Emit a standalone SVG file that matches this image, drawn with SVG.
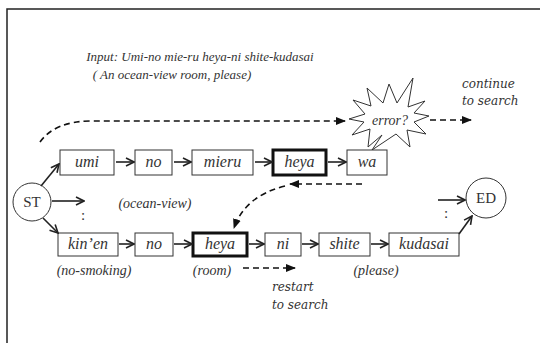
<svg xmlns="http://www.w3.org/2000/svg" width="540" height="343" viewBox="0 0 540 343">
<defs>
<style>
.bx{fill:#fff;stroke:#333;stroke-width:1}
.bb{fill:#fff;stroke:#111;stroke-width:3}
.c{fill:#fff;stroke:#333;stroke-width:1}
.a{fill:none;stroke:#222;stroke-width:1.6;marker-end:url(#v)}
.d{fill:none;stroke:#111;stroke-width:1.6;stroke-dasharray:6 4;marker-end:url(#f)}
</style>
<marker id="v" viewBox="0 0 10 10" refX="9" refY="5" markerWidth="10" markerHeight="10" markerUnits="userSpaceOnUse" orient="auto"><path d="M1,1 L9,5 L1,9" fill="none" stroke="#222" stroke-width="1.6"/></marker>
<marker id="f" viewBox="0 0 10 10" refX="9" refY="5" markerWidth="10" markerHeight="10" markerUnits="userSpaceOnUse" orient="auto"><path d="M0,1 L10,5 L0,9 Z" fill="#111"/></marker>
</defs>
<rect width="540" height="343" fill="#fff"/>
<path d="M7,343 L7,9 L540,9" fill="none" stroke="#222" stroke-width="1.5"/>
<g font-family="Liberation Serif, serif" font-style="italic" fill="#333" text-anchor="middle" font-size="14">
<text x="200" y="61" font-size="13">Input: Umi-no mie-ru heya-ni shite-kudasai</text>
<text x="172" y="79" font-size="13">( An ocean-view room, please)</text>
<text x="155" y="208">(ocean-view)</text>
<text x="94" y="275">(no-smoking)</text>
<text x="212" y="275">(room)</text>
<text x="376" y="275">(please)</text>
</g>
<g font-family="DejaVu Serif, serif" font-style="italic" fill="#333" font-size="12">
<text x="462" y="88">continue</text>
<text x="462" y="105">to search</text>
<text x="272" y="291">restart</text>
<text x="272" y="309">to search</text>
</g>
<g id="error">
<polygon class="c" points="429,116 414,122 426,134 407,130 410,147 396,134 372,150 382,135 368,147 370,129 352,135 364,122 349,119 365,114 353,100 371,106 367,88 383,103 389,84 397,103 413,78 408,107 425,101 414,113"/>
<text x="390" y="125" font-family="Liberation Serif, serif" font-style="italic" font-size="14" fill="#333" text-anchor="middle">error?</text>
</g>
<g id="ST"><circle class="c" cx="32" cy="202" r="19"/><text x="32" y="207" font-family="Liberation Serif, serif" font-size="15" fill="#333" text-anchor="middle">ST</text></g>
<g id="ED"><circle class="c" cx="486" cy="198" r="20"/><text x="486" y="203" font-family="Liberation Serif, serif" font-size="15" fill="#333" text-anchor="middle">ED</text></g>
<g font-family="Liberation Serif, serif" font-style="italic" font-size="16" fill="#333" text-anchor="middle">
<g id="umi"><rect class="bx" x="60" y="150" width="54" height="25"/><text x="87" y="167">umi</text></g>
<g id="no1"><rect class="bx" x="135" y="150" width="37" height="25"/><text x="153.5" y="167">no</text></g>
<g id="mieru"><rect class="bx" x="192" y="150" width="61" height="25"/><text x="222.5" y="167">mieru</text></g>
<g id="heya1"><rect class="bb" x="273" y="150" width="53" height="25"/><text x="299.5" y="167">heya</text></g>
<g id="wa"><rect class="bx" x="347" y="150" width="40" height="25"/><text x="367" y="167">wa</text></g>
<g id="kinen"><rect class="bx" x="58" y="233" width="60" height="23"/><text x="88" y="249">kin’en</text></g>
<g id="no2"><rect class="bx" x="135" y="233" width="38" height="23"/><text x="154" y="249">no</text></g>
<g id="heya2"><rect class="bb" x="193" y="233" width="54" height="23"/><text x="220" y="249">heya</text></g>
<g id="ni"><rect class="bx" x="265" y="233" width="36" height="23"/><text x="283" y="249">ni</text></g>
<g id="shite"><rect class="bx" x="319" y="233" width="51" height="23"/><text x="344.5" y="249">shite</text></g>
<g id="kudasai"><rect class="bx" x="389" y="233" width="70" height="23"/><text x="424" y="249">kudasai</text></g>
</g>
<g font-family="Liberation Serif, serif" font-size="15" fill="#333" text-anchor="middle">
<text x="83" y="220">:</text>
<text x="446" y="218">:</text>
</g>
<g id="connectors">
<path class="a" d="M41,186 L59,164"/>
<path class="a" d="M52,201 L84,201"/>
<path class="a" d="M43,218 L58,233"/>
<path class="a" d="M116,162 L134,162"/>
<path class="a" d="M174,162 L191,162"/>
<path class="a" d="M255,162 L272,162"/>
<path class="a" d="M328,162 L346,162"/>
<path class="a" d="M119,244 L134,244"/>
<path class="a" d="M174,244 L192,244"/>
<path class="a" d="M249,244 L264,244"/>
<path class="a" d="M302,244 L318,244"/>
<path class="a" d="M371,244 L388,244"/>
<path class="a" d="M438,200 L465,200"/>
<path class="a" d="M459,234 L472,216"/>
<path class="d" d="M40,142 Q55,121 92,121 L345,121"/>
<path class="d" d="M430,120 L471,120"/>
<path class="d" d="M362,184 L290,184"/>
<path class="d" d="M285,186 Q245,196 234,228"/>
<path class="d" d="M243,268 L295,268"/>
</g>
</svg>
